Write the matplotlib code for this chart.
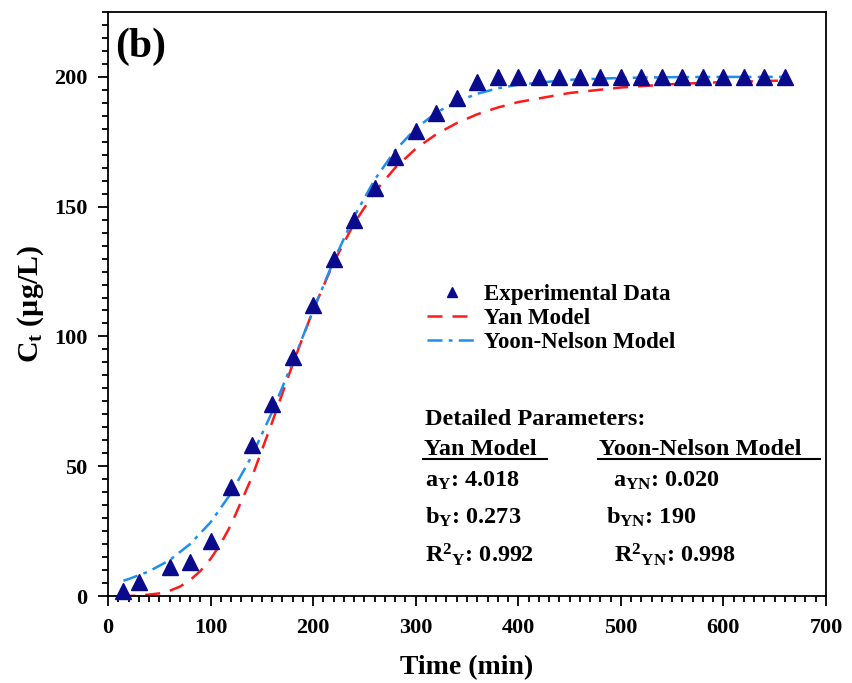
import matplotlib
matplotlib.use("Agg")
import matplotlib.pyplot as plt
from matplotlib.ticker import MultipleLocator

plt.rcParams['font.family'] = ['Liberation Serif', 'DejaVu Serif']
plt.rcParams['font.weight'] = 'bold'
plt.rcParams['mathtext.fontset'] = 'custom'
plt.rcParams['mathtext.rm'] = 'Liberation Serif:bold'
plt.rcParams['mathtext.it'] = 'Liberation Serif:bold'
plt.rcParams['mathtext.bf'] = 'Liberation Serif:bold'

# Experimental data
t_exp = [15, 30, 60, 80, 100, 120, 140, 160, 180, 200, 220, 240, 260, 280, 300,
         320, 340, 360, 380, 400, 420, 440, 460, 480, 500, 520, 540, 560, 580,
         600, 620, 640, 660]
c_exp = [2, 5.5, 11.3, 13.2, 21, 42, 58, 74, 92, 112, 130, 145, 157, 169, 179,
         186, 192, 198, 200, 200, 200, 200, 200, 200, 200, 200, 200, 200, 200,
         200, 200, 200, 200]

# Yan model curve
t_yan = [12, 30, 50, 60, 70, 80, 90, 100, 110, 120, 140, 160, 180, 200, 220, 240,
         260, 280, 300, 320, 340, 360, 380, 400, 450, 500, 550, 600, 660]
c_yan = [0.0, 0.1, 1.0, 2.0, 3.6, 6.1, 9.6, 14.3, 20.2, 27.5, 45.5, 66.9, 89.2,
         110.2, 128.5, 143.6, 155.6, 165.0, 172.3, 177.9, 182.2, 185.6, 188.2,
         190.3, 193.8, 195.9, 197.2, 198.0, 198.6]

# Yoon-Nelson model curve
t_yn = [15, 20, 40, 60, 80, 100, 120, 140, 160, 180, 200, 220, 240, 260, 280, 300,
        320, 340, 360, 380, 400, 450, 500, 550, 600, 660]
c_yn = [5.9, 6.5, 9.5, 13.8, 20.0, 28.4, 39.6, 53.8, 70.9, 90.0, 110.0, 129.1,
        146.2, 160.4, 171.7, 180.1, 186.2, 190.5, 193.5, 195.6, 197.0, 198.9,
        199.6, 199.9, 200.0, 200.0]

fig = plt.figure(figsize=(8.53, 6.83), dpi=100)
ax = fig.add_axes([108/853, 1-596/683, 718/853, 584/683])

ax.plot(t_yan, c_yan, color='#ff1a1a', lw=1.8, dashes=(6, 4), label='Yan Model', zorder=2)
ax.plot(t_yn, c_yn, color='#1e8fef', lw=1.8, dashes=(6, 2.5, 1.5, 2.5),
        label='Yoon-Nelson Model', zorder=2)
ax.plot(t_exp, c_exp, linestyle='none', marker='^', ms=11, color='#0a0a8c',
        label='Experimental Data', zorder=3, clip_on=False)

ax.set_xlim(0, 700)
ax.set_ylim(0, 225)
ax.xaxis.set_major_locator(MultipleLocator(100))
ax.xaxis.set_minor_locator(MultipleLocator(10))
ax.yaxis.set_major_locator(MultipleLocator(50))
ax.yaxis.set_minor_locator(MultipleLocator(5))
ax.tick_params(which='both', direction='out', top=False, right=False, width=1.3,
               labelsize=16)
ax.tick_params(which='major', length=7.5)
ax.tick_params(which='minor', length=4.5)
ax.tick_params(axis='x', which='major', pad=8.5)
ax.tick_params(axis='y', which='major', pad=7.5)
for s in ax.spines.values():
    s.set_linewidth(1.3)
for lab in ax.get_xticklabels() + ax.get_yticklabels():
    lab.set_fontweight('bold')

ax.set_xlabel('Time (min)', fontsize=20, fontweight='bold', labelpad=12)
ax.set_ylabel(r'C$_\mathrm{t}$ (µg/L)', fontsize=21.5, fontweight='bold', labelpad=5.5)

ax.text(0.010, 0.973, '(b)', transform=ax.transAxes, fontsize=30,
        fontweight='bold', va='top', ha='left')

handles, labels = ax.get_legend_handles_labels()
order = [2, 0, 1]
leg = ax.legend([handles[i] for i in order], [labels[i] for i in order],
                loc='upper left', bbox_to_anchor=((427-108)/718, 0.534),
                frameon=False, handlelength=2.2, handletextpad=0.3,
                labelspacing=0.12, borderpad=0, borderaxespad=0, markerscale=0.65,
                numpoints=1, prop={'weight': 'bold', 'size': 16.5})

tf = ax.transAxes
fs = 17.5
ax.text(0.4415, 0.303, 'Detailed Parameters:', transform=tf, fontsize=fs,
        fontweight='bold', va='center', ha='left')
ax.text(0.4400, 0.251, 'Yan Model', transform=tf, fontsize=fs,
        fontweight='bold', va='center', ha='left')
ax.text(0.6840, 0.251, 'Yoon-Nelson Model', transform=tf, fontsize=fs,
        fontweight='bold', va='center', ha='left')
ax.plot([(423-108)/718, (547-108)/718], [(596-458.5)/584]*2, transform=tf,
        color='black', lw=1.5, clip_on=False)
ax.plot([(598-108)/718, (820-108)/718], [(596-458.5)/584]*2, transform=tf,
        color='black', lw=1.5, clip_on=False)

ax.text(0.4415, 0.197, r'a$_\mathrm{Y}$: 4.018', transform=tf, fontsize=fs,
        fontweight='bold', va='center', ha='left')
ax.text(0.4415, 0.135, r'b$_\mathrm{Y}$: 0.273', transform=tf, fontsize=fs,
        fontweight='bold', va='center', ha='left')
ax.text(0.4415, 0.071, r'R$^\mathrm{2}$$_\mathrm{Y}$: 0.992', transform=tf, fontsize=fs,
        fontweight='bold', va='center', ha='left')
ax.text(0.703, 0.197, r'a$_\mathrm{YN}$: 0.020', transform=tf, fontsize=fs,
        fontweight='bold', va='center', ha='left')
ax.text(0.694, 0.135, r'b$_\mathrm{YN}$: 190', transform=tf, fontsize=fs,
        fontweight='bold', va='center', ha='left')
ax.text(0.705, 0.071, r'R$^\mathrm{2}$$_\mathrm{YN}$: 0.998', transform=tf, fontsize=fs,
        fontweight='bold', va='center', ha='left')

fig.savefig('out.png', dpi=100)
